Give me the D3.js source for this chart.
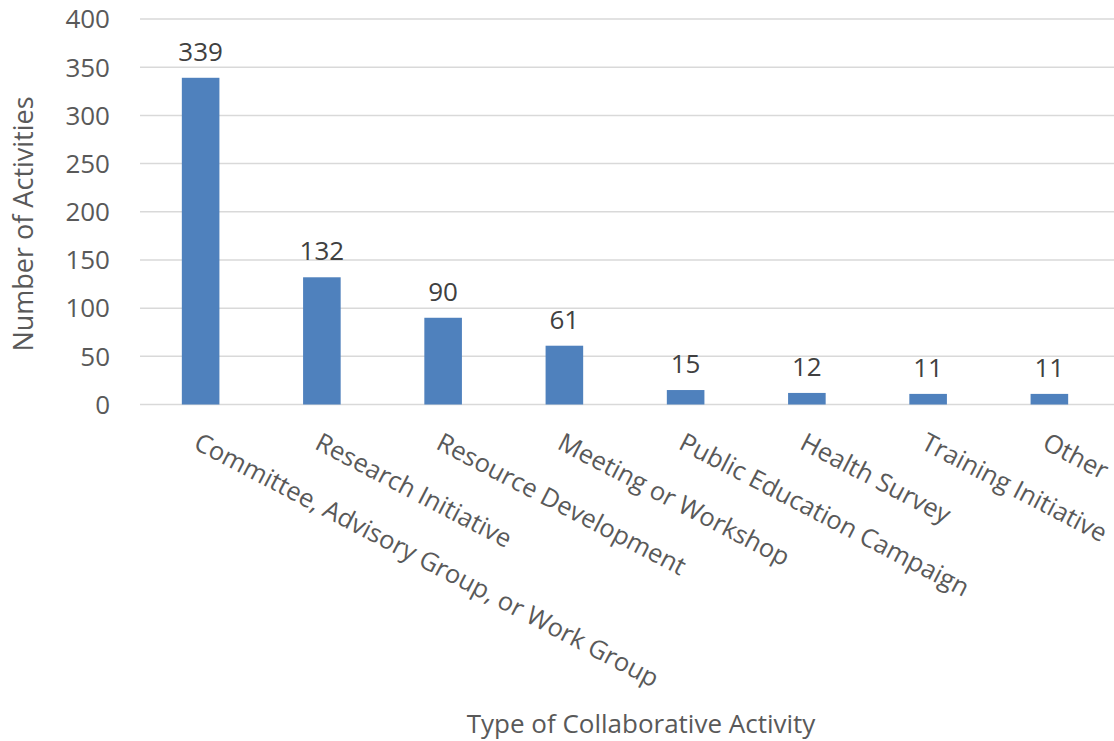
<!DOCTYPE html>
<html><head><meta charset="utf-8">
<script src="https://cdn.jsdelivr.net/npm/d3@7"></script>
<style>body{margin:0;background:#fff}svg{display:block}text{font-family:"Open Sans",sans-serif}</style>
</head><body>
<svg id="c" width="1114" height="741"></svg>
<script>
const categories = ["Committee, Advisory Group, or Work Group","Research Initiative","Resource Development","Meeting or Workshop","Public Education Campaign","Health Survey","Training Initiative","Other"];
const values = [339,132,90,61,15,12,11,11];
const yTicks = [0,50,100,150,200,250,300,350,400];
const yTitle = "Number of Activities";
const xTitle = "Type of Collaborative Activity";

const svg = d3.select("#c");
const x = d3.scaleBand().domain(categories).range([140,1110]).paddingInner(0.69).paddingOuter(0.345);
const y = d3.scaleLinear().domain([0,400]).range([404.5,19]);

// gridlines
svg.append("g").selectAll("line").data(yTicks).join("line")
  .attr("x1",140).attr("x2",1114)
  .attr("y1",d=>y(d)).attr("y2",d=>y(d))
  .attr("stroke","#d9d9d9").attr("stroke-width",1.5);

// y tick labels
svg.append("g").selectAll("text").data(yTicks).join("text")
  .attr("x",110).attr("y",d=>y(d)).attr("dy","0.36em")
  .attr("text-anchor","end").attr("font-size",26).attr("fill","#595959")
  .text(d=>d);

// bars
svg.append("g").selectAll("rect").data(values).join("rect")
  .attr("x",(d,i)=>x(categories[i])).attr("width",x.bandwidth())
  .attr("y",d=>y(d)).attr("height",d=>y(0)-y(d))
  .attr("fill","#4f81bd");

// data labels
svg.append("g").selectAll("text").data(values).join("text")
  .attr("x",(d,i)=>x(categories[i])+x.bandwidth()/2).attr("y",d=>y(d)-17)
  .attr("text-anchor","middle").attr("font-size",26).attr("fill","#404040")
  .text(d=>d);

// category labels
svg.append("g").selectAll("text").data(categories).join("text")
  .attr("transform",d=>`translate(${x(d)+x.bandwidth()/2+1},430) rotate(27.5)`)
  .attr("dy","0.8em").attr("text-anchor","start")
  .attr("font-size",25.5).attr("fill","#595959")
  .text(d=>d);

// axis titles
svg.append("text").attr("transform","translate(33,224) rotate(-90)")
  .attr("text-anchor","middle").attr("font-size",27).attr("fill","#595959").text(yTitle);
svg.append("text").attr("x",641).attr("y",733)
  .attr("text-anchor","middle").attr("font-size",26).attr("fill","#595959").text(xTitle);
</script>
</body></html>
